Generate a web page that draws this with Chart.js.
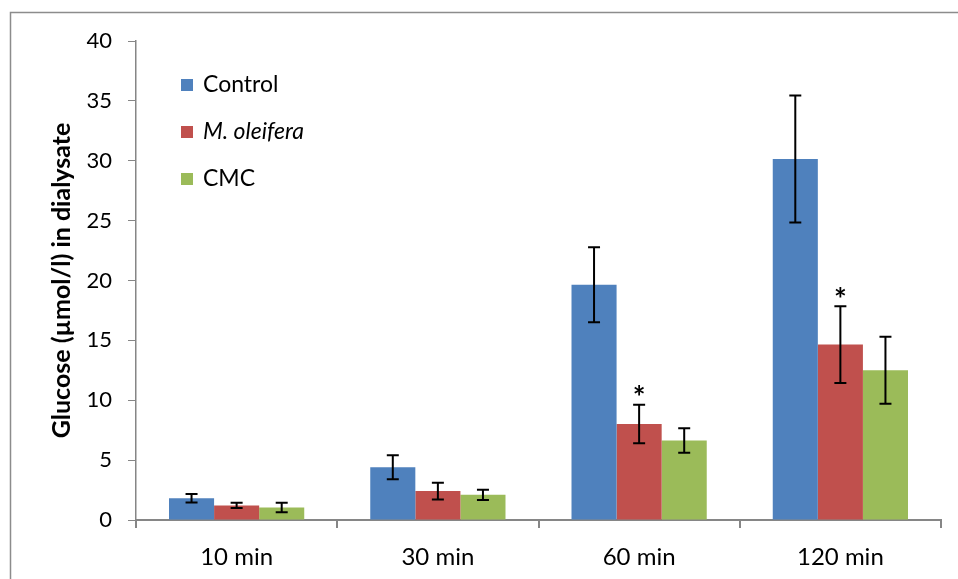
<!DOCTYPE html>
<html>
<head>
<meta charset="utf-8">
<title>Glucose in dialysate</title>
<script src="https://cdn.jsdelivr.net/npm/chart.js@4.4.1/dist/chart.umd.min.js"></script>
<style>
  html, body { margin: 0; padding: 0; background: #ffffff; }
  #wrap { position: relative; width: 958px; height: 579px; }
</style>
</head>
<body>
<div id="wrap"><canvas id="chart" width="958" height="579"></canvas></div>
<script>
// Sampling times
const categories = ['10 min', '30 min', '60 min', '120 min'];

// Mean glucose (µmol/l) per group
const controlMean = [1.82, 4.4, 19.65, 30.15];
const moringaMean = [1.22, 2.42, 8.02, 14.65];
const cmcMean     = [1.05, 2.1, 6.64, 12.5];

// Error (±) per group
const controlErr = [0.35, 1.0, 3.13, 5.3];
const moringaErr = [0.22, 0.7, 1.61, 3.2];
const cmcErr     = [0.4, 0.42, 1.02, 2.8];

// Significance marks on the M. oleifera bars
const moringaSig = ['', '', '*', '*'];

// Y axis ticks
const yMin = 0, yMax = 40, yStep = 5;

const seriesNames = ['Control', 'M. oleifera', 'CMC'];
const seriesItalic = [false, true, false];
const seriesColors = ['#4F81BD', '#C0504D', '#9BBB59'];
const seriesErrors = [controlErr, moringaErr, cmcErr];
const seriesMarks = [null, moringaSig, null];

const AXIS_GREY = '#868686';
const FONT = 'Lato, "Open Sans", sans-serif';

// Outer frame and white background
const framePlugin = {
  id: 'frame',
  beforeDraw(chart) {
    const ctx = chart.ctx;
    ctx.save();
    ctx.fillStyle = '#ffffff';
    ctx.fillRect(0, 0, chart.width, chart.height);
    ctx.strokeStyle = '#8c8c8c';
    ctx.lineWidth = 1.5;
    ctx.beginPath();
    ctx.moveTo(10.5, chart.height + 2);
    ctx.lineTo(10.5, 12.5);
    ctx.lineTo(chart.width + 2, 12.5);
    ctx.stroke();
    ctx.restore();
  }
};

// Error bars and significance asterisks
const errorBarPlugin = {
  id: 'errorBars',
  afterDatasetsDraw(chart) {
    const ctx = chart.ctx;
    const y = chart.scales.y;
    ctx.save();
    chart.data.datasets.forEach((ds, di) => {
      const meta = chart.getDatasetMeta(di);
      const errs = seriesErrors[di];
      const marks = seriesMarks[di];
      meta.data.forEach((bar, i) => {
        const v = ds.data[i];
        const e = errs[i];
        const yTop = y.getPixelForValue(v + e);
        const yBot = y.getPixelForValue(v - e);
        const x = bar.x;
        const cap = 6;
        ctx.strokeStyle = '#000000';
        ctx.lineWidth = 2;
        ctx.beginPath();
        ctx.moveTo(x, yTop);
        ctx.lineTo(x, yBot);
        ctx.moveTo(x - cap, yTop);
        ctx.lineTo(x + cap, yTop);
        ctx.moveTo(x - cap, yBot);
        ctx.lineTo(x + cap, yBot);
        ctx.stroke();
        if (marks && marks[i]) {
          ctx.fillStyle = '#000000';
          ctx.font = 'bold 30px ' + FONT;
          ctx.textAlign = 'center';
          ctx.textBaseline = 'middle';
          ctx.fillText(marks[i], x, yTop - 6);
        }
      });
    });
    ctx.restore();
  }
};

// Legend inside the plot area
const legendPlugin = {
  id: 'insideLegend',
  afterDraw(chart) {
    const ctx = chart.ctx;
    ctx.save();
    const x0 = 181, y0 = 85, gap = 47, box = 12;
    seriesNames.forEach((name, i) => {
      const cy = y0 + i * gap;
      ctx.fillStyle = seriesColors[i];
      ctx.fillRect(x0, cy - box / 2, box, box);
      ctx.fillStyle = '#000000';
      ctx.font = (seriesItalic[i] ? 'italic ' : '') + '23px ' + FONT;
      ctx.textAlign = 'left';
      ctx.textBaseline = 'middle';
      ctx.fillText(name, x0 + 22, cy);
    });
    ctx.restore();
  }
};

new Chart(document.getElementById('chart'), {
  type: 'bar',
  data: {
    labels: categories,
    datasets: [controlMean, moringaMean, cmcMean].map((d, i) => ({
      label: seriesNames[i],
      data: d,
      backgroundColor: seriesColors[i],
      borderWidth: 0,
      categoryPercentage: 0.672,
      barPercentage: 1.0
    }))
  },
  options: {
    responsive: false,
    animation: false,
    devicePixelRatio: 1,
    layout: { padding: { left: 0, right: 17, top: 41, bottom: 0 } },
    plugins: {
      legend: { display: false },
      tooltip: { enabled: false }
    },
    scales: {
      x: {
        grid: {
          display: true,
          drawOnChartArea: false,
          drawTicks: true,
          tickLength: 8,
          color: AXIS_GREY,
          lineWidth: 2,
          offset: true
        },
        border: { display: true, color: AXIS_GREY, width: 2 },
        ticks: { color: '#000000', font: { family: FONT, size: 24 }, padding: 15 },
        afterFit(s) { s.height = 59; }
      },
      y: {
        min: yMin,
        max: yMax,
        grid: {
          display: true,
          drawOnChartArea: false,
          drawTicks: true,
          tickLength: 8,
          color: AXIS_GREY,
          lineWidth: 1
        },
        border: { display: true, color: AXIS_GREY, width: 1.5 },
        ticks: {
          stepSize: yStep,
          color: '#000000',
          font: { family: FONT, size: 22 },
          padding: 16
        },
        title: {
          display: true,
          text: 'Glucose (µmol/l) in dialysate',
          color: '#000000',
          font: { family: FONT, size: 25, weight: 'bold' },
          padding: { top: 47, bottom: 0 }
        },
        afterFit(s) { s.width = 136; }
      }
    }
  },
  plugins: [framePlugin, errorBarPlugin, legendPlugin]
});
</script>
</body>
</html>
